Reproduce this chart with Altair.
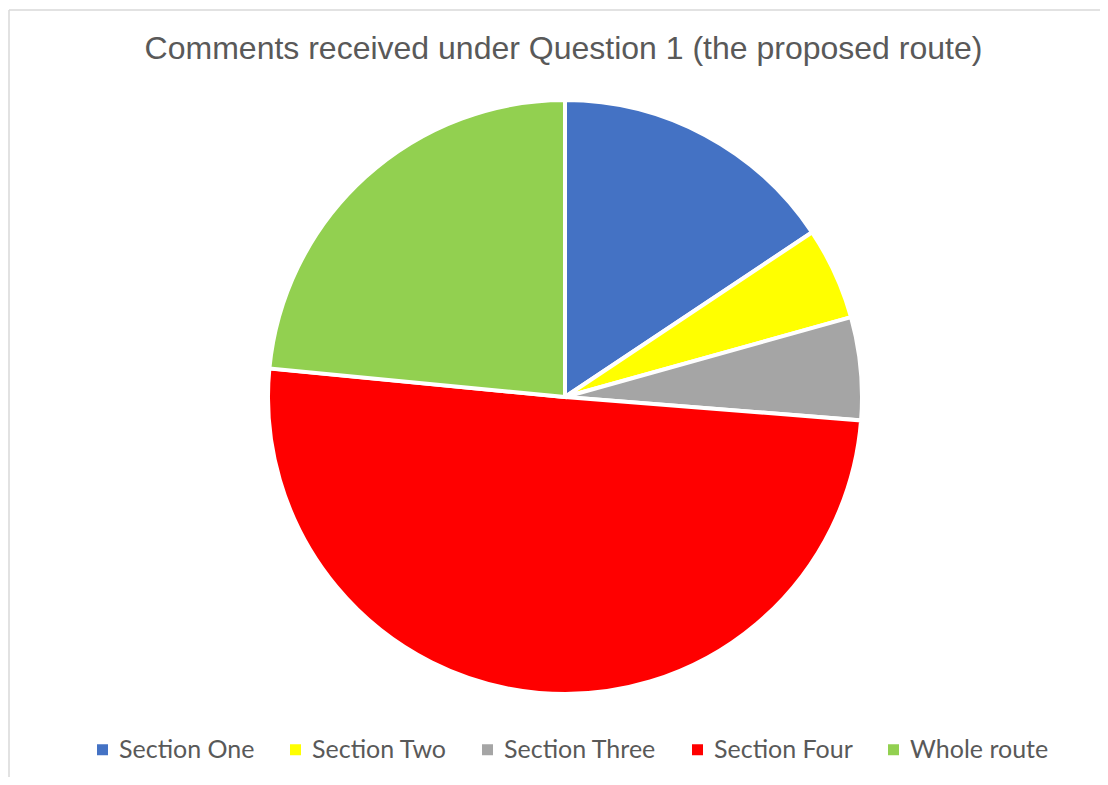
import altair as alt
import pandas as pd

categories = ["Section One", "Section Two", "Section Three", "Section Four", "Whole route"]
counts = [28, 9, 10, 90, 42]
colors = ["#4472C4", "#FFFF00", "#A5A5A5", "#FF0000", "#92D050"]
title_text = "Comments received under Question 1 (the proposed route)"

df = pd.DataFrame({"category": categories, "count": counts, "order": list(range(len(categories)))})

W, H = 1092, 769

pie = alt.Chart(df).mark_arc(outerRadius=297, stroke="white", strokeWidth=4).encode(
    x=alt.value(557),
    y=alt.value(389),
    theta=alt.Theta("count:Q", stack=True),
    order=alt.Order("order:Q"),
    color=alt.Color(
        "category:N",
        sort=categories,
        scale=alt.Scale(domain=categories, range=colors),
        legend=alt.Legend(
            title=None,
            orient="none",
            direction="horizontal",
            legendX=82,
            legendY=729,
            padding=0,
            symbolType="square",
            symbolSize=121,
            symbolStrokeWidth=0,
            symbolOpacity=1,
            labelFont="Lato",
            labelFontSize=25,
            labelColor="#595959",
            labelOffset=4,
            columnPadding=28,
            labelLimit=400,
        ),
    ),
)

title = alt.Chart(pd.DataFrame({"t": [title_text]})).mark_text(
    font="Liberation Sans", fontSize=32, color="#595959", align="center", baseline="alphabetic"
).encode(x=alt.value(555.5), y=alt.value(51), text="t:N")

border_top = alt.Chart(pd.DataFrame({"a": [0]})).mark_rule(color="#D9D9D9", strokeWidth=1.5).encode(
    x=alt.value(1), x2=alt.value(W), y=alt.value(2)
)
border_left = alt.Chart(pd.DataFrame({"a": [0]})).mark_rule(color="#D9D9D9", strokeWidth=1.5).encode(
    x=alt.value(1), y=alt.value(2), y2=alt.value(H)
)

chart = alt.layer(border_top, border_left, pie, title).properties(
    width=W, height=H, padding=0, autosize=alt.AutoSizeParams(type="none")
).configure_view(strokeWidth=0)

chart.save("out.html", embed_options={"renderer": "svg", "actions": False})
